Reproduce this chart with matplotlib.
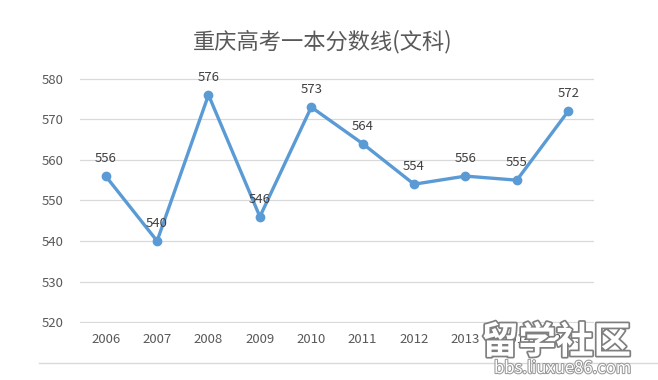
import matplotlib
matplotlib.use("Agg")
import matplotlib.pyplot as plt
import matplotlib.patheffects as pe

plt.rcParams['font.family'] = ['Noto Sans CJK SC', 'DejaVu Sans']

years = ['2006', '2007', '2008', '2009', '2010', '2011', '2012', '2013', '2014', '2015']
scores = [556, 540, 576, 546, 573, 564, 554, 556, 555, 572]
yticks = [520, 530, 540, 550, 560, 570, 580]

fig = plt.figure(figsize=(6.58, 3.80), dpi=100)
ax = fig.add_axes([0.1216, 0.15, 0.781, 0.645])

x = list(range(len(years)))
ax.plot(x, scores, color='#5B9BD5', linewidth=2.4, marker='o', markersize=6, zorder=3)

for xi, v in zip(x, scores):
    ax.annotate(str(v), (xi, v), xytext=(0, 8), textcoords='offset points',
                ha='center', va='bottom', fontsize=9.5, color='#404040')

ax.set_xlim(-0.5, len(years) - 0.5)
ax.set_ylim(519.8, 580.2)
ax.set_yticks(yticks)
ax.set_xticks(x)
ax.set_xticklabels(years)
ax.grid(axis='y', color='#D9D9D9', linewidth=0.9)
ax.set_axisbelow(True)
for s in ax.spines.values():
    s.set_visible(False)
ax.tick_params(length=0, labelsize=9.5, colors='#595959', pad=7)
ax.tick_params(axis='y', pad=12)

fig.text(0.49, 0.89, '重庆高考一本分数线(文科)', ha='center', va='center',
         fontsize=16, color='#595959')

# bottom border line of the chart area
fig.add_artist(plt.Line2D([0.06, 1.0], [0.045, 0.045], color='#D9D9D9', linewidth=1))

# watermark
outline = [pe.withStroke(linewidth=2.5, foreground='#7F7F7F')]
fig.text(0.845, 0.1, '留学社区', ha='center', va='center', fontsize=27,
         fontweight='bold', color='white', path_effects=outline)
fig.text(0.855, 0.03, 'bbs.liuxue86.com', ha='center', va='center', fontsize=12,
         color='white', path_effects=[pe.withStroke(linewidth=1.5, foreground='#999999')])

fig.savefig('out.png', dpi=100)
